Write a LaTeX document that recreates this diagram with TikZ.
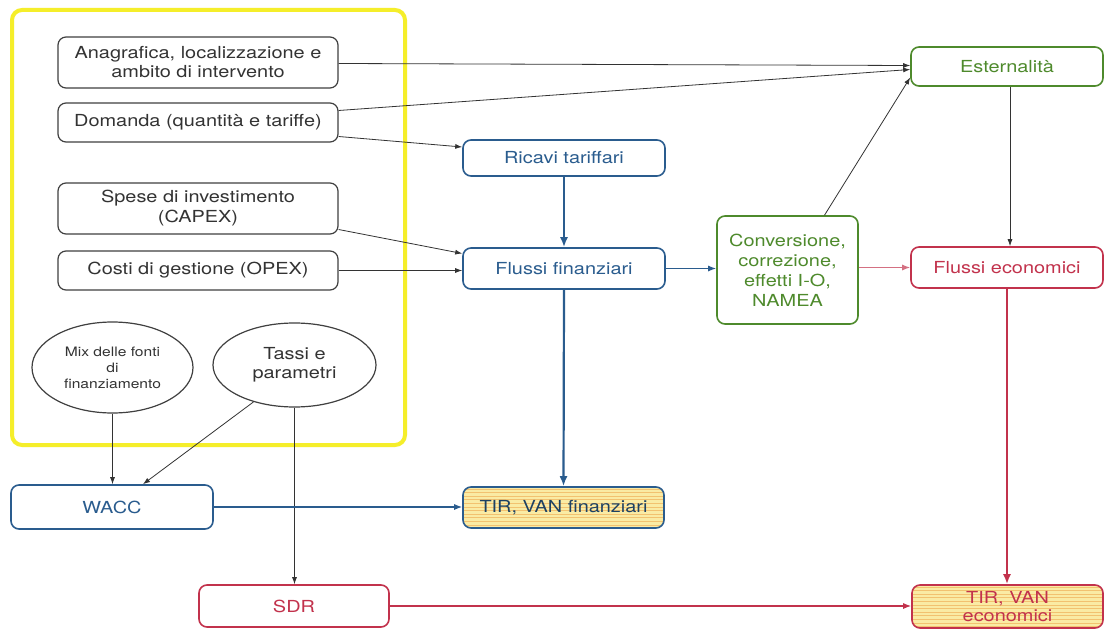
\documentclass[tikz,border=0pt]{standalone}
\usepackage{fontspec}
\setmainfont{TeX Gyre Heros}[FakeStretch=1.2]
\usetikzlibrary{arrows.meta,shapes.geometric,calc}
\definecolor{cblue}{HTML}{2A5C8E}
\definecolor{cgreen}{HTML}{4E8A2C}
\definecolor{cred}{HTML}{C2324C}
\definecolor{cyel}{HTML}{F5EE2A}
\definecolor{stripe}{HTML}{F2C270}
\definecolor{fillyel}{HTML}{FAEBA4}
\definecolor{tgray}{HTML}{333333}
\tikzset{
  fnt/.style={font=\fontsize{16.6}{19}\selectfont},
  gbox/.style={draw=black!75, line width=1.2pt, rounded corners=8pt, align=center, inner sep=0pt, text=tgray, fnt},
  bbox/.style={draw=cblue, line width=1.6pt, rounded corners=8pt, align=center, inner sep=0pt, text=cblue, fnt},
  rbox/.style={draw=cred, line width=1.6pt, rounded corners=8pt, align=center, inner sep=0pt, text=cred, fnt},
  grbox/.style={draw=cgreen, line width=1.6pt, rounded corners=8pt, align=center, inner sep=0pt, text=cgreen, fnt},
  ell/.style={draw=black!75, line width=1.2pt, ellipse, align=center, inner sep=0pt, text=tgray},
  striped/.style={fill=fillyel, path picture={\foreach \i in {0,...,14}{\draw[stripe, line width=1pt] ([yshift=-2pt-\i*3.6pt]path picture bounding box.north west) -- ++(260pt,0);}}},
  arr/.style={-{Latex[length=7pt,width=5pt]}, line width=0.8pt, draw=black!80},
  barr/.style={-{Latex[length=10pt,width=8pt]}, line width=2.2pt, draw=cblue},
  tbarr/.style={-{Latex[length=8pt,width=6pt]}, line width=1.2pt, draw=cblue},
  rarr/.style={-{Latex[length=10pt,width=8pt]}, line width=2.2pt, draw=cred},
  trarr/.style={-{Latex[length=8pt,width=6pt]}, line width=1.2pt, draw=cred!70},
}
\begin{document}
\begin{tikzpicture}[x=1pt,y=-1pt]
\useasboundingbox[fill=white] (0,0) rectangle (1105,631);
% yellow frame
\draw[cyel, line width=4pt, rounded corners=10pt] (12,10) rectangle (405,445);
% left boxes
\node[gbox, minimum width=280pt, minimum height=51pt] (ana) at (198,62.5) {Anagrafica, localizzazione e\\ambito di intervento};
\node[gbox, minimum width=280pt, minimum height=39pt] (dom) at (198,122.5) {Domanda (quantità e tariffe)};
\node[gbox, minimum width=280pt, minimum height=51pt, font=\fontsize{16.6}{20}\selectfont] (spe) at (198,208.5) {Spese di investimento\\(CAPEX)};
\node[gbox, minimum width=280pt, minimum height=39pt] (cos) at (198,270.5) {Costi di gestione (OPEX)};
\node[ell, minimum width=161pt, minimum height=91pt, font=\fontsize{13}{16}\selectfont] (mix) at (112.5,367.5) {Mix delle fonti\\di\\finanziamento};
\node[ell, minimum width=163pt, minimum height=84pt, fnt] (tas) at (294.5,365) {Tassi e\\parametri};
% middle
\node[bbox, minimum width=202pt, minimum height=36pt] (ric) at (564,158) {Ricavi tariffari};
\node[bbox, minimum width=202pt, minimum height=41pt] (ffi) at (564,268.5) {Flussi finanziari};
\node[grbox, minimum width=141pt, minimum height=108pt, font=\fontsize{16.6}{20}\selectfont] (con) at (787.5,270) {Conversione,\\correzione,\\effetti I-O,\\NAMEA};
\node[bbox, striped, minimum width=201pt, minimum height=41pt, text=cblue!70!black] (tvf) at (563.5,507.5) {TIR, VAN finanziari};
% right
\node[grbox, minimum width=192pt, minimum height=39pt] (est) at (1007,66.5) {Esternalità};
\node[rbox, minimum width=192pt, minimum height=41pt] (feco) at (1007,267.5) {Flussi economici};
\node[rbox, striped, minimum width=191pt, minimum height=43pt, font=\fontsize{16.6}{18}\selectfont] (tve) at (1007.5,606.5) {TIR, VAN\\economici};
% bottom
\node[bbox, minimum width=202pt, minimum height=44pt] (wacc) at (112,507) {WACC};
\node[rbox, minimum width=190pt, minimum height=42pt] (sdr) at (294,606) {SDR};
% connectors
\draw[arr] ([yshift=-1pt]ana.east) -- ([yshift=1pt]est.west);
\draw[arr] ([yshift=12pt]dom.east) -- ([yshift=-3pt]est.west);
\draw[arr] ([yshift=-14pt]dom.east) -- ([yshift=11pt]ric.west);
\draw[arr] ([yshift=-21pt]spe.east) -- ([yshift=15pt]ffi.west);
\draw[arr] (cos.east) -- (cos.east -| ffi.west);
\draw[barr] (ric.south) -- (ffi.north);
\draw[barr] (ffi.south) -- (tvf.north);
\draw[tbarr] (ffi.east) -- (ffi.east -| con.west);
\draw[arr] ([xshift=37pt]con.north) -- ([yshift=-11pt]est.west);
\draw[trarr] (con.east |- feco.west) -- (feco.west);
\draw[arr] ([xshift=3pt]est.south) -- ([xshift=3pt]feco.north);
\draw[rarr] (feco.south) -- (feco.south |- tve.north);
\draw[arr] (mix.south) -- (mix.south |- wacc.north);
\draw[arr] (tas.222) -- ([xshift=31pt]wacc.north);
\draw[arr] (tas.south) -- (tas.south |- sdr.north);
\draw[tbarr] (wacc.east) -- (wacc.east -| tvf.west);
\draw[trarr, draw=cred] (sdr.east) -- (sdr.east -| tve.west);
\end{tikzpicture}
\end{document}
